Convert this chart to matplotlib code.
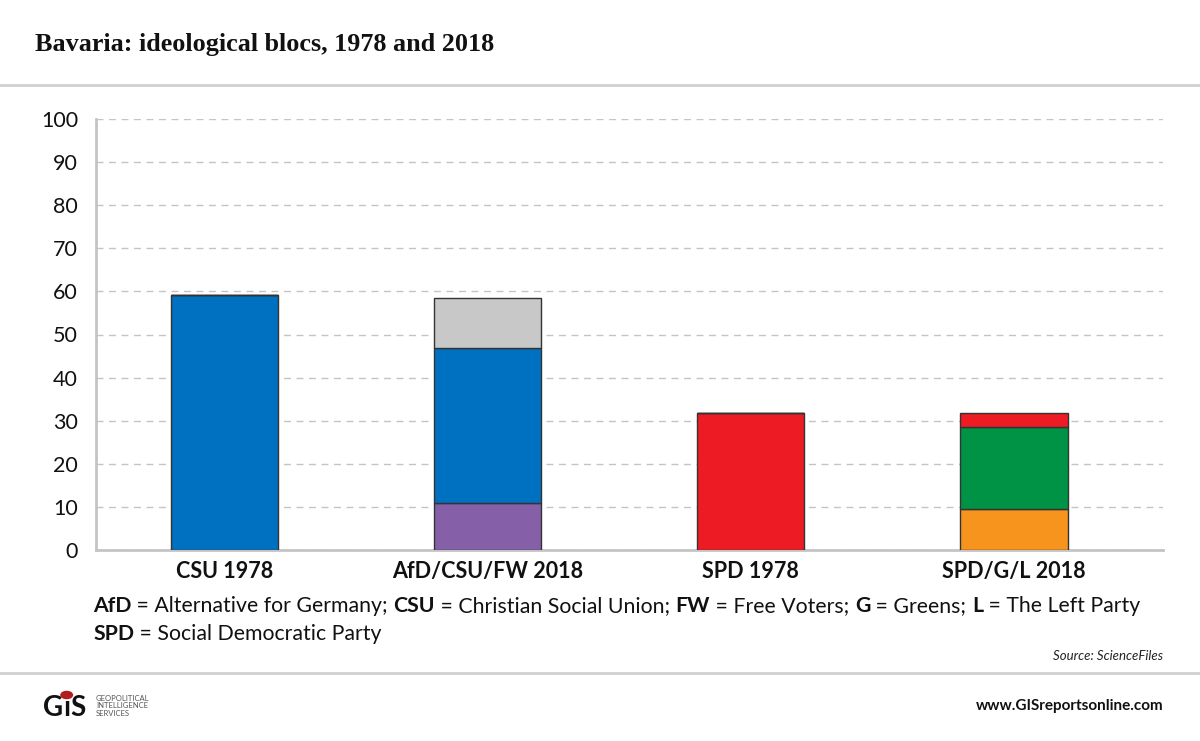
import numpy as np
import matplotlib.pyplot as plt
from matplotlib.patches import Circle

# data
categories = ['CSU 1978', 'AfD/CSU/FW 2018', 'SPD 1978', 'SPD/G/L 2018']
bottom_vals = [59.2, 11.0, 31.9, 9.4]
middle_vals = [0, 35.8, 0, 19.1]
top_vals = [0, 11.7, 0, 3.4]
bottom_cols = ['#0070c0', '#8560a8', '#ed1c24', '#f7941d']
middle_cols = ['#0070c0', '#0070c0', '#ed1c24', '#009245']
top_cols = ['#0070c0', '#c8c8c8', '#ed1c24', '#ed1c24']
yticks = [0, 10, 20, 30, 40, 50, 60, 70, 80, 90, 100]

W, H = 1200, 741
fig = plt.figure(figsize=(12, 7.41), dpi=100)
plt.rcParams['font.family'] = ['Lato', 'DejaVu Sans']

ax = fig.add_axes([96 / W, 1 - 550 / H, (1163 - 96) / W, (550 - 119) / H])
x = np.arange(len(categories))
bw = 0.407
b = np.array(bottom_vals)
m = np.array(middle_vals)
t = np.array(top_vals)
ax.bar(x, b, bw, color=bottom_cols, edgecolor='#333333', linewidth=1, zorder=3)
ax.bar(x, m, bw, bottom=b, color=middle_cols, edgecolor='#333333', linewidth=1, zorder=3)
ax.bar(x, t, bw, bottom=b + m, color=top_cols, edgecolor='#333333', linewidth=1, zorder=3)

ax.set_xlim(-0.488, 3.566)
ax.set_ylim(0, 100)
ax.set_yticks(yticks)
ax.set_yticklabels([str(v) for v in yticks], fontsize=15.5, color='#111111')
ax.set_xticks(x)
ax.set_xticklabels(categories, fontsize=15.5, fontweight='bold', color='#111111')
ax.tick_params(length=0)
ax.tick_params(axis='y', pad=13)
ax.tick_params(axis='x', pad=8)
ax.yaxis.grid(True, color='#c4c4c4', linestyle=(0, (5, 4)), linewidth=1, zorder=0)
for s in ['top', 'right']:
    ax.spines[s].set_visible(False)
for s in ['left', 'bottom']:
    ax.spines[s].set_color('#c4c4c4')
    ax.spines[s].set_linewidth(2)

# title and separators
fig.text(35 / W, 1 - 45 / H, 'Bavaria: ideological blocs, 1978 and 2018',
         family='Liberation Serif', fontweight='bold', fontsize=18.8,
         va='center', ha='left', color='#111111')
fig.add_artist(plt.Line2D([0, 1], [1 - 85 / H, 1 - 85 / H], color='#d0d0d0', lw=2))
fig.add_artist(plt.Line2D([0, 1], [1 - 673 / H, 1 - 673 / H], color='#d0d0d0', lw=2))

# legend lines with mixed weights
fig.canvas.draw()
renderer = fig.canvas.get_renderer()


def rich_line(parts, x0, y0, size=15.3, **kw):
    xx = x0
    boxes = []
    for txt, bold in parts:
        tt = fig.text(xx, y0, txt, fontsize=size, fontweight='bold' if bold else 'normal',
                      va='center', ha='left', color='#111111', **kw)
        ext = tt.get_window_extent(renderer)
        boxes.append((xx, ext.width / W))
        xx += ext.width / W
    return boxes


rich_line([('AfD', True), (' = Alternative for Germany; ', False), ('CSU', True),
           (' = Christian Social Union; ', False), ('FW', True), (' = Free Voters; ', False),
           ('G', True), (' = Greens; ', False), ('L', True), (' = The Left Party', False)],
          93 / W, 1 - 606 / H)
rich_line([('SPD', True), (' = Social Democratic Party', False)], 93 / W, 1 - 634 / H)

fig.text(1163 / W, 1 - 656 / H, 'Source: ScienceFiles', fontsize=9.5, style='italic',
         ha='right', va='center', color='#222222')
fig.text(1163 / W, 1 - 706 / H, 'www.GISreportsonline.com', fontsize=11, fontweight='bold',
         ha='right', va='center', color='#111111')

# logo
logo = rich_line([('G', True), ('ı', True), ('S', True)], 43 / W, 1 - 708 / H, size=20)
ix, iw = logo[1]
fig.add_artist(Circle((ix + iw / 2, 1 - 695 / H), 0.0048, transform=fig.transFigure,
                      color='#b01c20', zorder=5))
fig.text(96 / W, 1 - 706 / H, 'GEOPOLITICAL\nINTELLIGENCE\nSERVICES', fontsize=5.5,
         ha='left', va='center', color='#555555', linespacing=1.1)

fig.savefig('out.png', dpi=100)
